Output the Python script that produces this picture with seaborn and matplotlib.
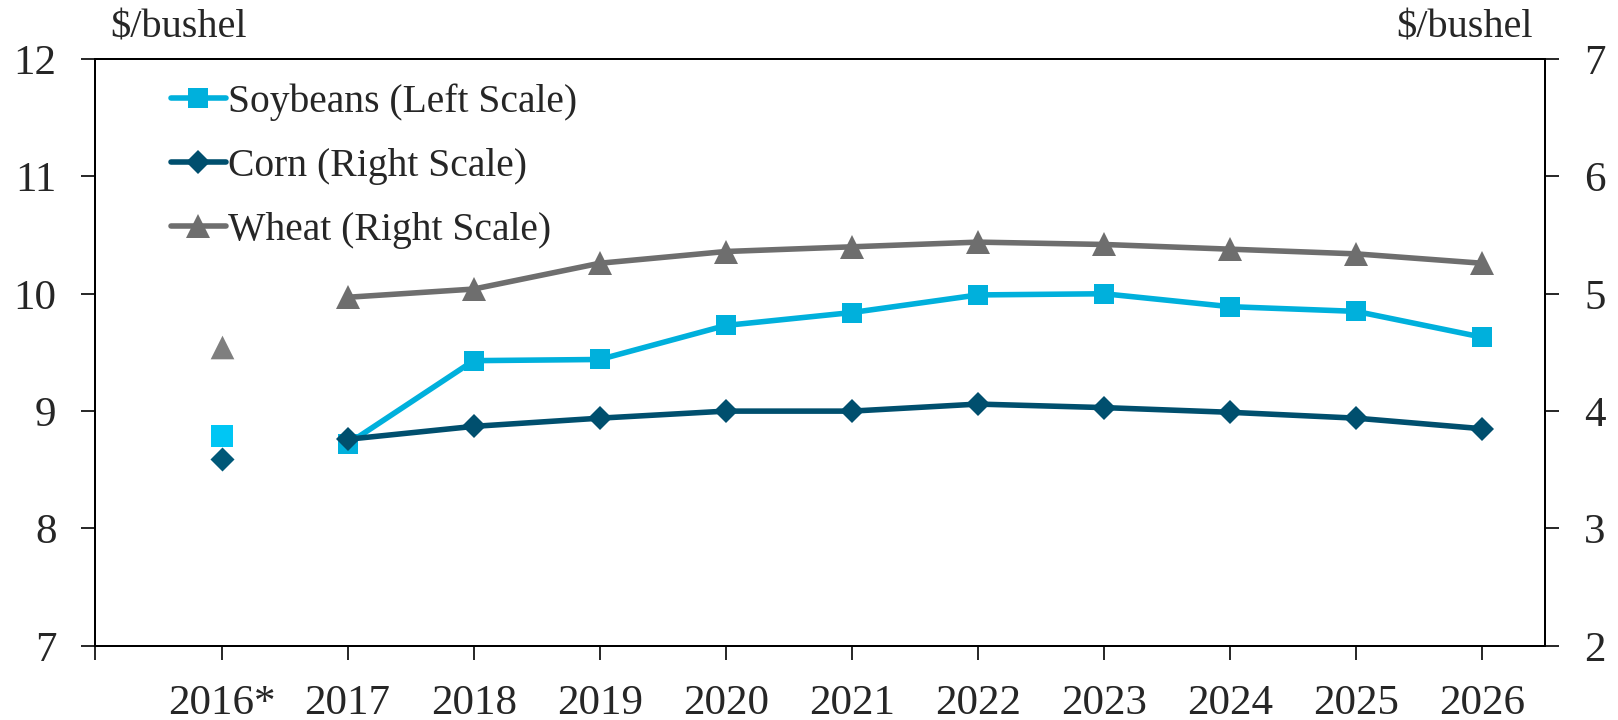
import matplotlib
matplotlib.use("Agg")
import matplotlib.pyplot as plt
import seaborn as sns
import numpy as np
import pandas as pd

# data
years = ["2016*", "2017", "2018", "2019", "2020", "2021",
         "2022", "2023", "2024", "2025", "2026"]
soybeans = [8.79, 8.72, 9.43, 9.44, 9.73, 9.84, 9.99, 10.00, 9.89, 9.85, 9.63]
corn = [3.59, 3.76, 3.87, 3.94, 4.00, 4.00, 4.06, 4.03, 3.99, 3.94, 3.85]
wheat = [4.55, 4.97, 5.04, 5.26, 5.36, 5.40, 5.44, 5.42, 5.38, 5.34, 5.26]

SOY = "#00B0DC"
SOY_EST = "#00C6F4"
CORN = "#004F6E"
CORN_EST = "#005878"
WHEAT = "#6E6E6E"
WHEAT_EST = "#7F7F7F"

df = pd.DataFrame({"x": np.arange(len(years)), "year": years,
                   "soy": soybeans, "corn": corn, "wheat": wheat})
est = df.iloc[:1]
proj = df.iloc[1:]

sns.set_style("ticks")
plt.rcParams["font.family"] = ["Liberation Serif", "DejaVu Serif"]

fig, ax = plt.subplots(figsize=(16.18, 7.2), dpi=100)
fig.subplots_adjust(left=0.059, right=0.955, top=0.918, bottom=0.103)
ax2 = ax.twinx()

lw = 4.0
sns.lineplot(data=proj, x="x", y="soy", ax=ax, color=SOY, lw=lw, marker="s",
             markersize=15, markeredgewidth=0, label="Soybeans (Left Scale)",
             legend=False)
sns.lineplot(data=proj, x="x", y="corn", ax=ax2, color=CORN, lw=lw, marker="D",
             markersize=12, markeredgewidth=0, label="Corn (Right Scale)",
             legend=False)
sns.lineplot(data=proj, x="x", y="wheat", ax=ax2, color=WHEAT, lw=lw, marker="^",
             markersize=17, markeredgewidth=0, label="Wheat (Right Scale)",
             legend=False)

sns.scatterplot(data=est, x="x", y="soy", ax=ax, color=SOY_EST, marker="s",
                s=230, linewidth=0, legend=False)
sns.scatterplot(data=est, x="x", y="corn", ax=ax2, color=CORN_EST, marker="D",
                s=150, linewidth=0, legend=False)
sns.scatterplot(data=est, x="x", y="wheat", ax=ax2, color=WHEAT_EST, marker="^",
                s=290, linewidth=0, legend=False)

ax.set_xlim(-1, 10.5)
ax.set_ylim(7, 12)
ax2.set_ylim(2, 7)
ax.set_xticks(np.arange(-1, len(years)))
ax.set_xticklabels([""] + years)
ax.set_yticks(np.arange(7, 13))
ax2.set_yticks(np.arange(2, 8))
ax.set_xlabel("")
ax.set_ylabel("")
ax2.set_ylabel("")

for a in (ax, ax2):
    for sp in a.spines.values():
        sp.set_visible(True)
        sp.set_linewidth(1.4)
        sp.set_color("black")
ax.tick_params(axis="x", direction="out", length=10, width=1.4, pad=18,
               labelsize=31)
ax.tick_params(axis="y", direction="out", length=10, width=1.4, pad=18,
               labelsize=31)
ax2.tick_params(axis="y", direction="out", length=10, width=1.4, pad=18,
                labelsize=31)

fig.text(110 / 1618, 1 - 28 / 720, "$/bushel", fontsize=29,
         ha="left", va="center")
fig.text(1533 / 1618, 1 - 28 / 720, "$/bushel", fontsize=29,
         ha="right", va="center")

h1, l1 = ax.get_legend_handles_labels()
h2, l2 = ax2.get_legend_handles_labels()
leg = ax2.legend(h1 + h2, l1 + l2, loc="upper left",
                 bbox_to_anchor=(0.041, 0.985), frameon=False, fontsize=28.5,
                 handlelength=1.4, handletextpad=0.05, labelspacing=0.68,
                 borderaxespad=0)

fig.savefig("out.png", dpi=100)
